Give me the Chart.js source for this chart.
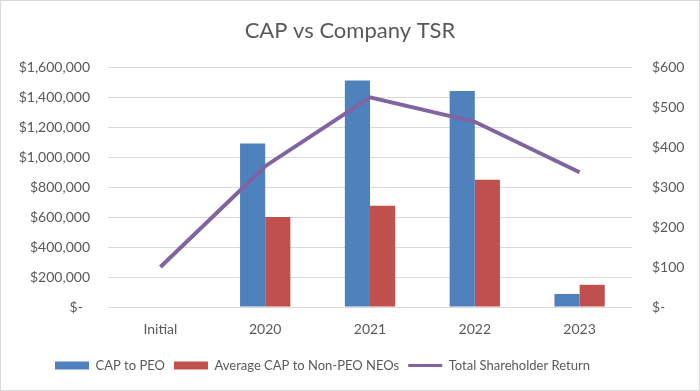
<!DOCTYPE html>
<html>
<head>
<meta charset="utf-8">
<script src="https://cdn.jsdelivr.net/npm/chart.js@4.4.1/dist/chart.umd.min.js"></script>
<style>
  html, body { margin: 0; padding: 0; background: #fff; }
  #wrap { width: 700px; height: 391px; box-sizing: border-box; border: 1px solid #d9d9d9; }
</style>
</head>
<body>
<div id="wrap"><canvas id="myChart" width="698" height="389"></canvas></div>
<script>
const categories = ['Initial', '2020', '2021', '2022', '2023'];
const capPeo = [null, 1090000, 1510000, 1440000, 87000];
const capNonPeo = [null, 600000, 675000, 848000, 148000];
const tsr = [100, 352, 524, 463, 337];

const grey = '#595959';
const font = { family: 'Lato, "Open Sans", sans-serif', size: 14 };

function money(v) {
  if (v === 0) return '$-  ';
  return '$' + v.toLocaleString('en-US');
}

// legend in the original sits left of centre
const legendShift = {
  id: 'legendShift',
  afterLayout(chart) {
    chart.legend.left = 45;
  }
};

const ctx = document.getElementById('myChart');

new Chart(ctx, {
  type: 'bar',
  data: {
    labels: categories,
    datasets: [
      {
        label: 'CAP to PEO',
        data: capPeo,
        backgroundColor: '#4F81BD',
        borderWidth: 0,
        yAxisID: 'y',
        categoryPercentage: 0.48,
        barPercentage: 1.0,
        order: 1
      },
      {
        label: 'Average CAP to Non-PEO NEOs',
        data: capNonPeo,
        backgroundColor: '#C0504D',
        borderWidth: 0,
        yAxisID: 'y',
        categoryPercentage: 0.48,
        barPercentage: 1.0,
        order: 1
      },
      {
        type: 'line',
        label: 'Total Shareholder Return',
        data: tsr,
        borderColor: '#8064A2',
        backgroundColor: '#8064A2',
        borderWidth: 4,
        pointRadius: 0,
        tension: 0,
        yAxisID: 'y1',
        order: 0
      }
    ]
  },
  options: {
    responsive: false,
    animation: false,
    layout: { padding: { left: 0, right: 0, top: 0, bottom: 8 } },
    plugins: {
      title: {
        display: true,
        text: 'CAP vs Company TSR',
        color: grey,
        font: { family: font.family, size: 22, weight: 'normal' },
        padding: { top: 17, bottom: 22.6 }
      },
      legend: {
        position: 'bottom',
        align: 'start',
        labels: {
          color: grey,
          font: { family: font.family, size: 13 },
          usePointStyle: true,
          pointStyleWidth: 34,
          boxHeight: 8,
          padding: 9,
          sort: (a, b) => a.datasetIndex - b.datasetIndex,
          generateLabels: (chart) => {
            const items = Chart.defaults.plugins.legend.labels.generateLabels(chart);
            items.forEach(it => {
              if (it.datasetIndex === 2) {
                it.pointStyle = 'line';
                it.lineWidth = 3;
                it.strokeStyle = '#8064A2';
              } else {
                it.pointStyle = 'rect';
                it.lineWidth = 0;
              }
            });
            return items;
          }
        }
      },
      tooltip: { enabled: false }
    },
    scales: {
      x: {
        grid: { display: false },
        border: { display: false },
        ticks: { color: grey, font: font, padding: 6 },
        afterFit: (s) => { s.height = 43; }
      },
      y: {
        position: 'left',
        min: 0,
        max: 1600000,
        ticks: { stepSize: 200000, color: grey, font: font, padding: 18, callback: money },
        grid: { color: '#d9d9d9', drawTicks: false },
        border: { display: false },
        afterFit: (s) => { s.width = 107; }
      },
      y1: {
        position: 'right',
        min: 0,
        max: 600,
        ticks: { stepSize: 100, color: grey, font: font, padding: 20, callback: money },
        grid: { drawOnChartArea: false, drawTicks: false },
        border: { display: false },
        afterFit: (s) => { s.width = 67; }
      }
    }
  },
  plugins: [legendShift]
});
</script>
</body>
</html>
